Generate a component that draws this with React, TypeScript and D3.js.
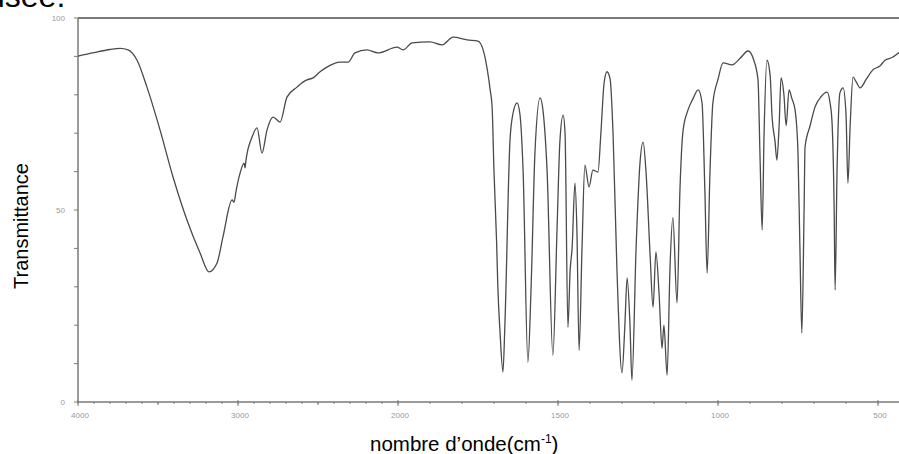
import * as d3 from "d3";

// IR spectrum, wavenumber (cm-1) vs transmittance (%)
const wavenumbers = [
  4000, 3900, 3800, 3737, 3687, 3631, 3569, 3487, 3406, 3319, 3237, 3181, 3131, 3094,
  3037, 3025, 3012, 2987, 2962, 2956, 2950, 2912, 2881, 2850, 2819, 2781, 2737, 2694,
  2631, 2594, 2569, 2531, 2487, 2444, 2362, 2312, 2269, 2194, 2125, 2006, 1984, 1956,
  1900, 1862, 1828, 1784, 1750, 1734, 1712, 1706, 1700, 1692, 1688, 1681, 1672, 1666,
  1650, 1641, 1628, 1619, 1609, 1594, 1584, 1572, 1556, 1547, 1534, 1516, 1503, 1494,
  1484, 1478, 1469, 1462, 1456, 1447, 1441, 1434, 1425, 1416, 1403, 1391, 1375, 1366,
  1356, 1347, 1337, 1328, 1316, 1300, 1291, 1284, 1275, 1269, 1256, 1244, 1234, 1225,
  1212, 1203, 1194, 1184, 1175, 1169, 1159, 1150, 1141, 1128, 1119, 1109, 1094, 1078,
  1062, 1050, 1041, 1034, 1025, 1016, 1000, 984, 956, 931, 906, 888, 875, 869, 862,
  856, 847, 837, 831, 822, 816, 809, 803, 794, 787, 778, 769, 759, 750, 744, 738, 731,
  728, 712, 697, 678, 659, 650, 644, 637, 634, 628, 619, 609, 600, 594, 587, 578, 569,
  556, 537, 516, 494, 478, 456, 434, 416,
];
const transmittance = [
  90.1, 91.0, 91.8, 92.1, 91.7, 89, 82, 70.8, 58.6, 47.4, 38.8, 33.9, 36.2, 43,
  52.6, 52, 55, 59.6, 62.2, 61, 63, 69, 71.4, 64.8, 70.8, 74.2, 72.9, 79.4,
  82, 83.3, 83.9, 84.4, 86, 87.2, 88.5, 88.5, 90.9, 91.7, 90.9, 92.4, 91.7, 93.5,
  93.8, 93, 95, 94.3, 94, 91.7, 81.3, 77, 60, 42, 30, 18, 7.8, 20,
  68.2, 75, 77.9, 75, 60, 10.4, 30, 65, 79.2, 76, 60, 12.2, 45, 68,
  74.7, 70, 19.5, 34.4, 40, 57, 45, 13.5, 40, 61.7, 56, 60.4, 59.9, 70,
  83, 86, 84, 70, 35, 7.6, 20, 32.3, 20, 5.7, 40, 62, 67.7, 60,
  38, 24.7, 39, 28, 14, 20, 7, 35, 48, 25.8, 55, 70.8, 76, 79,
  81.3, 78, 55, 33.6, 60, 77.9, 84, 88.3, 87.8, 89.5, 91.4, 89, 83.9, 65, 44.8,
  70, 89, 85, 74.2, 68, 63, 72, 84.4, 80, 72, 81.3, 79, 76, 65, 40, 18, 50,
  66.4, 72, 76.8, 79.5, 80.7, 78, 73.4, 50, 29.2, 60, 80.5, 81.8, 75, 57, 72, 84.6, 83.5,
  81.8, 84, 86.5, 87.5, 89, 89.7, 91, 92,
];

const xTickLabels = [4000, 3000, 2000, 1500, 1000, 500];
const xMidTicks = [3500, 2500];
const yTickLabels = [0, 50, 100];

const W = 899;
const H = 454;
const left = 78;
const top = 18;
const bottom = 402;

export default function App() {
  // two-piece wavenumber axis: scale doubles below 2000 cm-1
  const x = d3.scaleLinear().domain([4000, 2000, 400]).range([left, 398, 910]);
  const y = d3.scaleLinear().domain([0, 100]).range([bottom, top]);

  const pts = wavenumbers.map((w, i) => [w, transmittance[i]] as [number, number]);
  const line = d3.line<[number, number]>()
    .x(d => x(d[0]))
    .y(d => y(d[1]))
    .curve(d3.curveMonotoneX);

  const minorX = d3.range(500, 4001, 100).filter(v => x(v) <= W);
  const minorY = d3.range(0, 101, 10);

  const axisColor = "#7a7a7a";
  const font = "'Liberation Sans', Arial, sans-serif";

  return (
    <svg width={W} height={H} style={{ position: "absolute", left: 0, top: 0, display: "block" }}>
      <rect width={W} height={H} fill="#fff" />
      {/* tail of a sentence above the chart, cut by the frame as in the source */}
      <text x={-13} y={7} fontFamily={font} fontSize={32} fill="#000">usée.</text>

      {/* frame */}
      <line x1={left} x2={W} y1={top} y2={top} stroke={axisColor} strokeWidth={2} />
      <line x1={left} x2={left} y1={top} y2={bottom} stroke={axisColor} strokeWidth={1.5} />
      <line x1={left} x2={W} y1={bottom} y2={bottom} stroke={axisColor} strokeWidth={1.5} />

      {/* x ticks */}
      {minorX.map(v => (
        <line key={"mx" + v} x1={x(v)} x2={x(v)} y1={bottom} y2={bottom + 2} stroke={axisColor} strokeWidth={1} />
      ))}
      {xMidTicks.map(v => (
        <line key={"dx" + v} x1={x(v)} x2={x(v)} y1={bottom} y2={bottom + 3} stroke={axisColor} strokeWidth={1} />
      ))}
      {xTickLabels.map(v => (
        <g key={"x" + v}>
          <line x1={x(v)} x2={x(v)} y1={bottom - 2} y2={bottom + 4} stroke={axisColor} strokeWidth={1} />
          <text x={x(v) + 2} y={bottom + 16} textAnchor="middle" fontFamily={font} fontSize={8} fill="#999">{v}</text>
        </g>
      ))}

      {/* y ticks */}
      {minorY.map(v => (
        <line key={"my" + v} x1={left - 4} x2={left} y1={y(v)} y2={y(v)} stroke={axisColor} strokeWidth={1} />
      ))}
      {yTickLabels.map(v => (
        <text key={"y" + v} x={65} y={y(v) + 3} textAnchor="end" fontFamily={font} fontSize={8} fill="#999">{v}</text>
      ))}

      {/* spectrum */}
      <path d={line(pts) ?? ""} fill="none" stroke="#4a4a4a" strokeWidth={1.3} strokeLinejoin="round" />

      {/* axis titles */}
      <text transform="translate(28,226) rotate(-90)" textAnchor="middle" fontFamily={font} fontSize={20} fill="#000">
        Transmittance
      </text>
      <text x={370} y={451} fontFamily={font} fontSize={20.5} fill="#000">
        nombre d’onde(cm<tspan fontSize={12} dy={-8}>-1</tspan><tspan dy={8}>)</tspan>
      </text>
    </svg>
  );
}
